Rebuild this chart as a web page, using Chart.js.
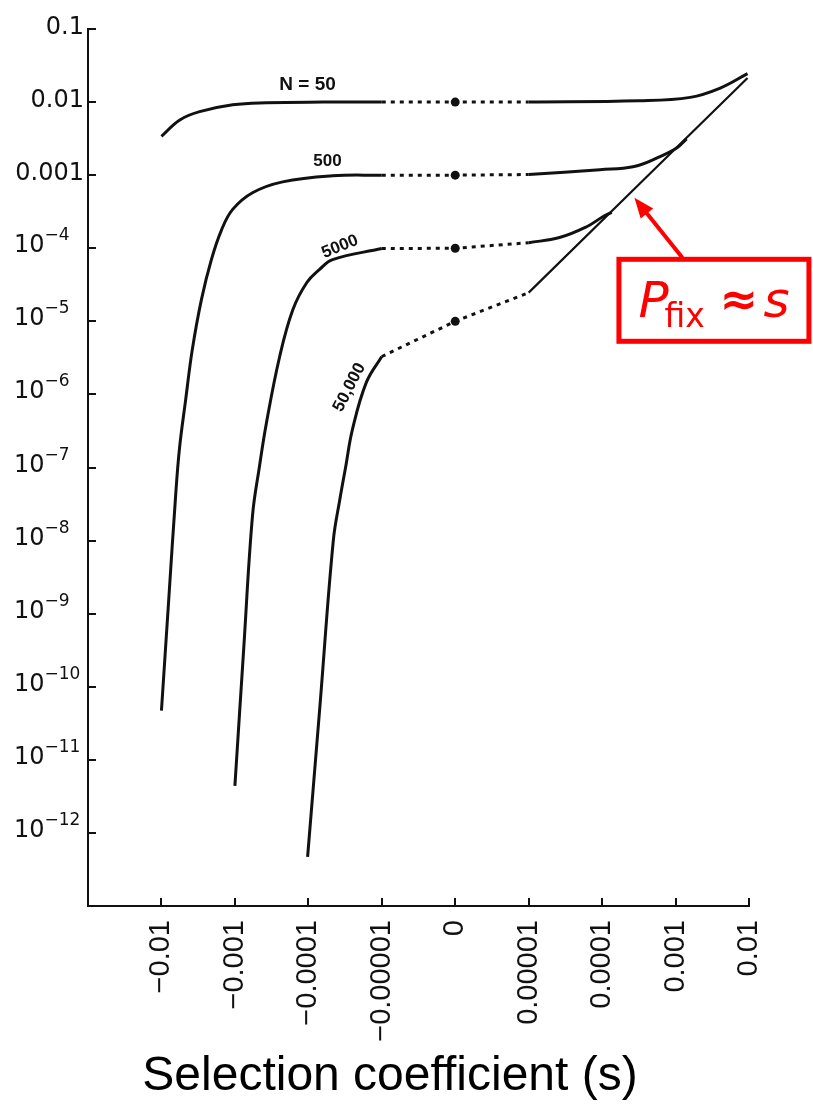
<!DOCTYPE html>
<html>
<head>
<meta charset="utf-8">
<title>Fixation probability vs selection coefficient</title>
<script src="https://cdn.jsdelivr.net/npm/chart.js"></script>
<style>
  html, body { margin: 0; padding: 0; background: #fff; }
</style>
</head>
<body>
<canvas id="chart" width="813" height="1110"></canvas>
<script>
// x positions are tick slots: 0 = -0.01 ... 4 = 0 ... 8 = 0.01 (log scale on each side)
const sTickPos = [0, 1, 2, 3, 4, 5, 6, 7, 8];
const sTickLabels = ['\u22120.01', '\u22120.001', '\u22120.0001', '\u22120.00001', '0', '0.00001', '0.0001', '0.001', '0.01'];
const yTickValues = [1e-1, 1e-2, 1e-3, 1e-4, 1e-5, 1e-6, 1e-7, 1e-8, 1e-9, 1e-10, 1e-11, 1e-12];
const yTickLabels = ['0.1', '0.01', '0.001', '10^\u22124', '10^\u22125', '10^\u22126', '10^\u22127', '10^\u22128', '10^\u22129', '10^\u221210', '10^\u221211', '10^\u221212'];

// N = 50
const n50LeftS = [0, 0.25, 0.52, 0.97, 1.43, 2.2, 3];
const n50LeftP = [0.0034, 0.0057, 0.0074, 0.0092, 0.0098, 0.0100, 0.0100];
const n50DotS = [3, 4, 5];
const n50DotP = [0.0100, 0.0100, 0.0100];
const n50RightS = [5, 6.5, 7.2, 7.6, 7.98];
const n50RightP = [0.0100, 0.0104, 0.0116, 0.0154, 0.0245];

// N = 500
const n500LeftS = [0, 0.10, 0.19, 0.245, 0.33, 0.42, 0.545, 0.68, 0.82, 0.97, 1.24, 1.65, 2.33, 3];
const n500LeftP = [4.7e-11, 1.6e-9, 3.7e-8, 1.8e-7, 8.5e-7, 4.1e-6, 2.0e-5, 7.0e-5, 1.8e-4, 3.4e-4, 5.75e-4, 8.1e-4, 9.8e-4, 1.0e-3];
const n500DotS = [3, 4, 5];
const n500DotP = [1.0e-3, 1.0e-3, 1.02e-3];
const n500RightS = [5, 5.97, 6.42, 6.78, 7.02, 7.15];
const n500RightP = [1.02e-3, 1.19e-3, 1.30e-3, 1.78e-3, 2.37e-3, 3.14e-3];

// N = 5000
const n5000LeftS = [1.0, 1.12, 1.24, 1.335, 1.43, 1.61, 1.79, 1.98, 2.15, 2.33, 3];
const n5000LeftP = [4.4e-12, 3.3e-10, 2.2e-8, 1.04e-7, 4.1e-7, 3.3e-6, 1.45e-5, 3.4e-5, 5.1e-5, 7.0e-5, 9.9e-5];
const n5000DotS = [3, 4, 5];
const n5000DotP = [9.9e-5, 1.0e-4, 1.19e-4];
const n5000RightS = [5, 5.42, 5.79, 6.01, 6.13];
const n5000RightP = [1.19e-4, 1.40e-4, 1.97e-4, 2.7e-4, 3.1e-4];

// N = 50,000
const n50000LeftS = [1.99, 2.16, 2.34, 2.43, 2.51, 2.60, 2.79, 3.0];
const n50000LeftP = [4.7e-13, 5.8e-11, 1.0e-8, 3.7e-8, 1.04e-7, 3.3e-7, 1.46e-6, 3.3e-6];
const n50000DotS = [3, 4, 5];
const n50000DotP = [3.3e-6, 1.0e-5, 2.47e-5];

// Pfix ~ s asymptote (also the N = 50,000 curve for s > 0)
const asymS = [5, 7.98];
const asymP = [2.47e-5, 0.0214];

// neutral points at s = 0
const neutralS = [4, 4, 4, 4];
const neutralP = [0.01, 1e-3, 1e-4, 1e-5];

// curve labels: text, anchor (s slot, P), rotation in degrees
const curveLabels = [
  { text: 'N = 50', s: 1.99, p: 0.0172, rot: 0, size: 19 },
  { text: '500', s: 2.26, p: 1.57e-3, rot: 0, size: 17 },
  { text: '5000', s: 2.43, p: 1.05e-4, rot: -22, size: 17 },
  { text: '50,000', s: 2.56, p: 1.25e-6, rot: -63, size: 17 }
];
const arrowTip = { s: 6.44, p: 4.9e-4 };

const INK = '#111';
const RED = '#ff0000';

function pts(s, p) {
  return s.map((v, i) => ({ x: v, y: p[i] }));
}
function solid(s, p, width) {
  return {
    data: pts(s, p),
    borderColor: INK,
    borderWidth: width || 3,
    pointRadius: 0,
    fill: false,
    tension: 0.4
  };
}
function dotted(s, p) {
  return {
    data: pts(s, p),
    borderColor: INK,
    borderWidth: 3,
    borderDash: [4, 5],
    pointRadius: 0,
    fill: false,
    tension: 0
  };
}

const datasets = [
  solid(n50LeftS, n50LeftP), dotted(n50DotS, n50DotP), solid(n50RightS, n50RightP),
  solid(n500LeftS, n500LeftP), dotted(n500DotS, n500DotP), solid(n500RightS, n500RightP),
  solid(n5000LeftS, n5000LeftP), dotted(n5000DotS, n5000DotP), solid(n5000RightS, n5000RightP),
  solid(n50000LeftS, n50000LeftP), dotted(n50000DotS, n50000DotP),
  solid(asymS, asymP, 2.2),
  {
    data: pts(neutralS, neutralP),
    showLine: false,
    pointRadius: 4.5,
    pointBackgroundColor: INK,
    pointBorderWidth: 0
  }
];

const overlay = {
  id: 'overlay',
  afterDraw(chart) {
    const { ctx, chartArea } = chart;
    const x = chart.scales.x;
    const y = chart.scales.y;
    ctx.save();

    // inward tick marks
    ctx.strokeStyle = INK;
    ctx.lineWidth = 2;
    ctx.beginPath();
    yTickValues.forEach((v) => {
      const py = Math.round(y.getPixelForValue(v));
      ctx.moveTo(chartArea.left, py);
      ctx.lineTo(chartArea.left + 8, py);
    });
    sTickPos.forEach((v) => {
      const px = Math.round(x.getPixelForValue(v));
      ctx.moveTo(px, chartArea.bottom);
      ctx.lineTo(px, chartArea.bottom - 8);
    });
    ctx.stroke();

    // y tick labels with superscript exponents
    ctx.fillStyle = INK;
    ctx.textBaseline = 'alphabetic';
    yTickValues.forEach((v, i) => {
      const py = y.getPixelForValue(v);
      const parts = yTickLabels[i].split('^');
      if (parts.length === 1) {
        ctx.font = '24px "DejaVu Sans", sans-serif';
        ctx.textAlign = 'right';
        ctx.fillText(parts[0], 84, py + 5);
      } else {
        ctx.textAlign = 'left';
        ctx.font = '24px "DejaVu Sans", sans-serif';
        ctx.fillText(parts[0], 14, py + 4);
        const w = ctx.measureText(parts[0]).width;
        ctx.font = '17px "DejaVu Sans", sans-serif';
        ctx.fillText(parts[1], 14 + w, py - 8);
      }
    });

    // curve labels
    ctx.textAlign = 'center';
    ctx.textBaseline = 'middle';
    curveLabels.forEach((l) => {
      ctx.save();
      ctx.translate(x.getPixelForValue(l.s), y.getPixelForValue(l.p));
      ctx.rotate(l.rot * Math.PI / 180);
      ctx.font = 'bold ' + l.size + 'px "Liberation Sans", Arial, sans-serif';
      ctx.fillText(l.text, 0, 0);
      ctx.restore();
    });

    // axis title
    ctx.font = '48px "Liberation Sans", Arial, sans-serif';
    ctx.textAlign = 'center';
    ctx.textBaseline = 'alphabetic';
    ctx.fillStyle = '#000';
    ctx.fillText('Selection coefficient (s)', 390, 1090);

    // red callout: arrow + box pointing at the asymptote
    const tx = x.getPixelForValue(arrowTip.s);
    const ty = y.getPixelForValue(arrowTip.p);
    ctx.strokeStyle = RED;
    ctx.fillStyle = RED;
    ctx.lineWidth = 4;
    const ax = tx + 48, ay = ty + 60;
    const ang = Math.atan2(ty - ay, tx - ax);
    ctx.beginPath();
    ctx.moveTo(ax, ay);
    ctx.lineTo(tx - 14 * Math.cos(ang), ty - 14 * Math.sin(ang));
    ctx.stroke();
    ctx.beginPath();
    ctx.moveTo(tx, ty);
    ctx.lineTo(tx - 20 * Math.cos(ang) + 8 * Math.sin(ang), ty - 20 * Math.sin(ang) - 8 * Math.cos(ang));
    ctx.lineTo(tx - 20 * Math.cos(ang) - 8 * Math.sin(ang), ty - 20 * Math.sin(ang) + 8 * Math.cos(ang));
    ctx.closePath();
    ctx.fill();

    ctx.lineWidth = 5;
    ctx.strokeRect(tx - 15.5, ty + 61.5, 190, 82);

    ctx.textAlign = 'left';
    ctx.textBaseline = 'alphabetic';
    ctx.font = 'italic 50px "Comic Sans MS", "DejaVu Sans", sans-serif';
    ctx.fillText('P', tx + 4, ty + 119);
    ctx.font = '33px "Comic Sans MS", "DejaVu Sans", sans-serif';
    ctx.fillText('fix', tx + 30, ty + 129);
    ctx.font = 'bold 46px "Comic Sans MS", "DejaVu Sans", sans-serif';
    ctx.fillText('\u2248', tx + 85, ty + 117);
    ctx.font = 'italic 50px "Comic Sans MS", "DejaVu Sans", sans-serif';
    ctx.fillText('s', tx + 129, ty + 119);

    ctx.restore();
  }
};

new Chart(document.getElementById('chart').getContext('2d'), {
  type: 'line',
  data: { datasets },
  options: {
    responsive: false,
    animation: false,
    layout: { padding: { top: 29, right: 64, bottom: 0, left: 0 } },
    plugins: {
      legend: { display: false },
      tooltip: { enabled: false }
    },
    scales: {
      x: {
        type: 'linear',
        min: -1,
        max: 8,
        grid: { display: false, drawTicks: false },
        border: { display: true, color: INK, width: 2 },
        ticks: {
          autoSkip: false,
          minRotation: 90,
          maxRotation: 90,
          padding: 14,
          color: INK,
          font: { family: '"Liberation Sans", Arial, sans-serif', size: 29 },
          callback: (value, index) => sTickLabels[index]
        },
        afterBuildTicks: (scale) => { scale.ticks = sTickPos.map((v) => ({ value: v })); },
        afterFit: (scale) => { scale.height = 204; }
      },
      y: {
        type: 'logarithmic',
        min: 1e-13,
        max: 0.1,
        grid: { display: false, drawTicks: false },
        border: { display: true, color: INK, width: 2 },
        ticks: { display: false },
        afterBuildTicks: (scale) => { scale.ticks = yTickValues.map((v) => ({ value: v })); },
        afterFit: (scale) => { scale.width = 88; }
      }
    }
  },
  plugins: [overlay]
});
</script>
</body>
</html>
